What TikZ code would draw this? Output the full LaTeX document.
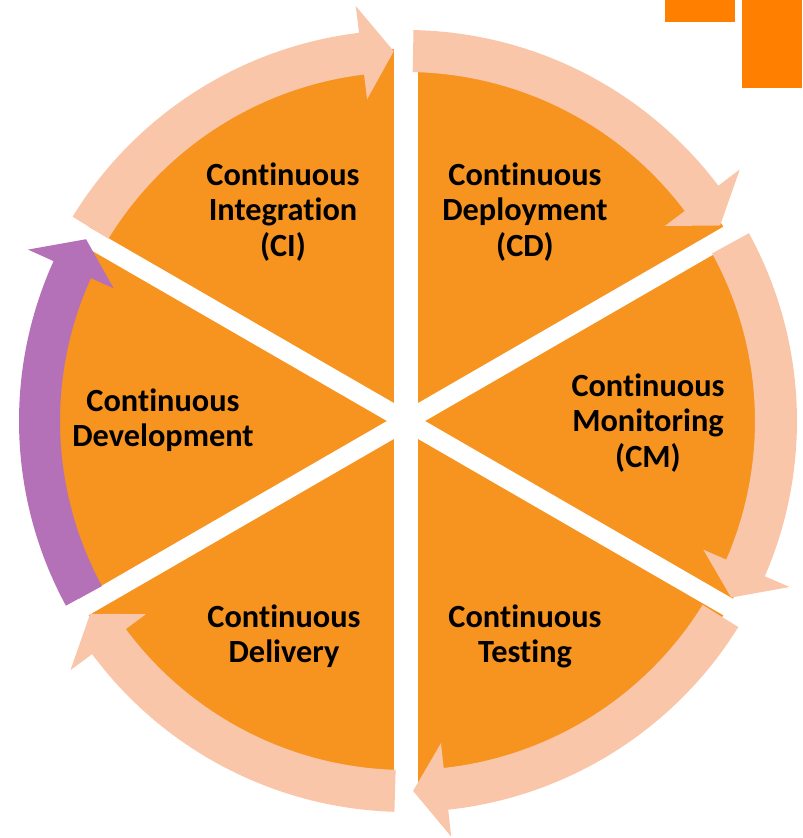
\documentclass[tikz,border=0pt]{standalone}
\usepackage{fontspec}
\setmainfont{Carlito}[Ligatures=CommonOff]
\definecolor{ffqqtt}{rgb}{0.969,0.576,0.122}
\definecolor{ffccaa}{rgb}{0.976,0.776,0.663}
\definecolor{ccqqcc}{rgb}{0.71,0.443,0.722}
\definecolor{ffttqq}{rgb}{1.,0.502,0.}
\tikzset{lbl/.style={font=\bfseries\fontsize{18.4}{20}\selectfont,align=center,text=black}}

\begin{document}
\begin{tikzpicture}[line cap=butt,line join=miter,x=0.02cm,y=0.02cm]
	\useasboundingbox (-406,-417) rectangle (396,421);
	\fill[ffttqq] (259,399) rectangle (329,421);
	\fill[ffttqq] (336,333) rectangle (396,421);
	\fill[ffqqtt] (0,0) circle (372);
	\draw[white,line width=0.47cm] (90:375) -- (270:375);
	\draw[white,line width=0.38cm] (30:375) -- (210:375);
	\draw[white,line width=0.38cm] (150:375) -- (330:375);
	\fill[ffccaa] (148.5:349) arc[start angle=148.5,end angle=96.9,radius=349] -- (96.9:324) -- (91.9:370) -- (96.9:418) -- (96.9:391) arc[start angle=96.9,end angle=148.5,radius=391] -- cycle;
	\fill[ffccaa] (88.9:349) arc[start angle=88.9,end angle=37.0,radius=349] -- (37.0:324) -- (31.9:370) -- (37.0:418) -- (37.0:391) arc[start angle=37.0,end angle=88.9,radius=391] -- cycle;
	\fill[ffccaa] (28.7:349) arc[start angle=28.7,end angle=-23.4,radius=349] -- (-23.4:324) -- (-28.5:370) -- (-23.4:418) -- (-23.4:391) arc[start angle=-23.4,end angle=28.7,radius=391] -- cycle;
	\fill[ffccaa] (-31.8:349) arc[start angle=-31.8,end angle=-83.8,radius=349] -- (-83.8:324) -- (-88.9:370) -- (-83.8:418) -- (-83.8:391) arc[start angle=-83.8,end angle=-31.8,radius=391] -- cycle;
	\fill[ffccaa] (268.3:349) arc[start angle=268.3,end angle=216.6,radius=349] -- (216.6:324) -- (211.4:370) -- (216.6:418) -- (216.6:391) arc[start angle=216.6,end angle=268.3,radius=391] -- cycle;
	\fill[ccqqcc] (208.5:346) arc[start angle=208.5,end angle=155.6,radius=346] -- (155.6:321) -- (150.4:368) -- (155.6:415) -- (155.6:387) arc[start angle=155.6,end angle=208.5,radius=387] -- cycle;
	\node[lbl] (ci) at (-123,209) {Continuous\\Integration\\(CI)};
	\node[lbl] (cd) at (119,209) {Continuous\\Deployment\\(CD)};
	\node[lbl] (cm) at (242,-2) {Continuous\\Monitoring\\(CM)};
	\node[lbl] (ct) at (119,-215) {Continuous\\Testing};
	\node[lbl] (cdl) at (-122,-215) {Continuous\\Delivery};
	\node[lbl] (cdev) at (-243,1) {Continuous\\Development};
\end{tikzpicture}
\end{document}
